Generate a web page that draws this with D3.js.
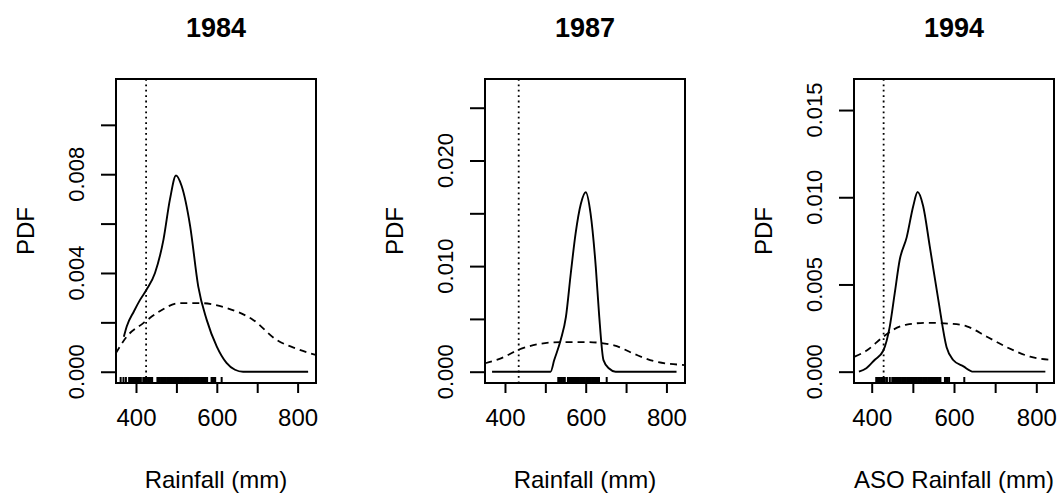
<!DOCTYPE html>
<html lang="en">
<head>
<meta charset="UTF-8">
<title>Rainfall PDFs</title>
<script src="https://d3js.org/d3.v7.min.js"></script>
<style>
  body { margin: 0; background: #fff; }
  text { font-family: "Liberation Sans", Arial, sans-serif; fill: #000; }
</style>
</head>
<body>
<svg width="1060" height="500"></svg>
<script>
// panel settings
const years = ["1984", "1987", "1994"];
const xLabels = ["Rainfall (mm)", "Rainfall (mm)", "ASO Rainfall (mm)"];
const xLimits = [[350.5, 845.5], [350.5, 846], [357, 843]];
const yLimits = [[-0.000456, 0.011856], [-0.00107, 0.02772], [-0.00065, 0.01678]];
const xTicks = [400, 500, 600, 700, 800];
const xTickLabels = [400, 600, 800];
const yTicks = [
    [0, 0.002, 0.004, 0.006, 0.008, 0.010],
    [0, 0.005, 0.010, 0.015, 0.020, 0.025],
    [0, 0.005, 0.010, 0.015]
];
const yTickLabels = [
    [0, 0.004, 0.008],
    [0, 0.010, 0.020],
    [0, 0.005, 0.010, 0.015]
];
const thresholds = [425, 434, 429];

// kernel density (solid)
const kde1984 = [[370, 0.00142], [377, 0.00183], [395, 0.00245], [410, 0.00291], [426, 0.00332], [447, 0.0040],
    [468, 0.00535], [484, 0.00698], [499, 0.00795], [513, 0.00752], [534, 0.0059], [554, 0.00346],
    [575, 0.0021], [600, 0.00102], [624, 0.00036], [645, 0.00008], [665, 0], [826, 0]];
const kde1987 = [[368, 0], [513, 0], [522, 0.0011], [538, 0.0030], [551, 0.0052], [563, 0.0093],
    [575, 0.0131], [588, 0.0159], [600, 0.0170], [612, 0.0150], [625, 0.0099], [633, 0.0055],
    [644, 0.0011], [658, 0.0003], [674, 0], [825, 0]];
const kde1994 = [[369, 0], [387, 0.0002], [407, 0.00067], [428, 0.0012], [444, 0.0026], [456, 0.0045],
    [468, 0.0064], [485, 0.0077], [501, 0.0095], [511.5, 0.0103], [525, 0.0095], [541, 0.0072],
    [562, 0.0041], [582, 0.0014], [598, 0.00067], [623, 0.0003], [647, 0], [822, 0]];

// fitted distribution (dashed)
const fit1984 = [[350, 0.00075], [377, 0.00142], [418, 0.00197], [451, 0.00237], [509, 0.00278],
    [558, 0.00278], [624, 0.00258], [690, 0.0021], [748, 0.00129], [800, 0.00092], [845, 0.00068]];
const fit1987 = [[351, 0.0008], [390, 0.00127], [435, 0.0021], [481, 0.0026], [538, 0.0028],
    [604, 0.0028], [670, 0.0025], [719, 0.0017], [769, 0.0010], [846, 0.00063]];
const fit1994 = [[358.5, 0.00086], [387, 0.0012], [428, 0.002], [452, 0.0024], [485, 0.0027],
    [533, 0.0028], [590, 0.00275], [631, 0.0026], [680, 0.002], [728.5, 0.0014], [785, 0.00086], [843, 0.00067]];

// observations (rug)
const obs1984 = [362, 369, 375, 383, 386, 389, 392, 395, 398, 401, 404, 407, 410, 412,
    418, 421, 424, 427, 430, 433, 436, 439, 440,
    453, 456, 459, 462, 465, 468, 471, 474, 477, 480, 483, 486, 489, 492, 495, 498, 501,
    504, 507, 510, 513, 516, 519, 522, 525, 528, 531, 534, 537, 540, 543, 546, 549, 552,
    555, 558, 561, 564, 567, 570, 573, 576, 587, 590, 593, 596, 612];
const obs1987 = [532, 535, 538, 541, 544, 547, 548,
    556, 559, 562, 565, 568, 571, 574, 577, 580, 583, 586, 589, 592, 595, 598, 601, 604,
    607, 610, 613, 616, 619, 622, 625, 628, 631, 633, 652];
const obs1994 = [411, 414, 417, 420, 423, 426, 429, 432, 437, 444,
    450, 453, 456, 459, 462, 465, 468, 471, 474, 477, 480, 483, 486, 489, 492, 495, 498,
    501, 504, 507, 510, 513, 516, 519, 522, 525, 528, 531, 534, 537, 540, 543, 546, 549,
    552, 555, 558, 561, 564, 567, 578, 581, 584, 588, 625];

const kdes = [kde1984, kde1987, kde1994];
const fits = [fit1984, fit1987, fit1994];
const obs = [obs1984, obs1987, obs1994];

const svg = d3.select("svg");
svg.append("rect").attr("width", 1060).attr("height", 500).attr("fill", "#fff");

const panelLeft = [116, 485, 854];
const boxW = 200, plotTop = 79, plotBottom = 383;
const fmt = d3.format(".3f");

years.forEach(function (year, i) {
    const left = panelLeft[i];
    const x = d3.scaleLinear().domain(xLimits[i]).range([left, left + boxW]);
    const y = d3.scaleLinear().domain(yLimits[i]).range([plotBottom, plotTop]);
    const g = svg.append("g");
    const clipId = "clip" + i;

    g.append("clipPath").attr("id", clipId)
        .append("rect").attr("x", left).attr("y", plotTop).attr("width", boxW).attr("height", plotBottom - plotTop);

    const line = d3.line()
        .x(function (d) { return x(d[0]); })
        .y(function (d) { return y(d[1]); })
        .curve(d3.curveMonotoneX);

    const plot = g.append("g").attr("clip-path", "url(#" + clipId + ")");

    plot.append("path")
        .datum(fits[i])
        .attr("d", line)
        .attr("fill", "none")
        .attr("stroke", "#000")
        .attr("stroke-width", 1.8)
        .attr("stroke-dasharray", "7 5");

    plot.append("path")
        .datum(kdes[i])
        .attr("d", line)
        .attr("fill", "none")
        .attr("stroke", "#000")
        .attr("stroke-width", 1.9);

    // threshold line
    plot.append("line")
        .attr("x1", x(thresholds[i])).attr("x2", x(thresholds[i]))
        .attr("y1", plotTop).attr("y2", plotBottom)
        .attr("stroke", "#000")
        .attr("stroke-width", 1.8)
        .attr("stroke-dasharray", "1.8 3.6");

    // rug
    plot.selectAll(".rug")
        .data(obs[i])
        .enter()
        .append("line")
        .attr("x1", function (d) { return x(d); })
        .attr("x2", function (d) { return x(d); })
        .attr("y1", plotBottom)
        .attr("y2", plotBottom - 6)
        .attr("stroke", "#000")
        .attr("stroke-width", 2);

    // box
    g.append("rect")
        .attr("x", left).attr("y", plotTop)
        .attr("width", boxW).attr("height", plotBottom - plotTop)
        .attr("fill", "none")
        .attr("stroke", "#000")
        .attr("stroke-width", 2);

    // x axis
    const xAxis = g.append("g")
        .attr("transform", "translate(0," + plotBottom + ")")
        .call(d3.axisBottom(x).tickValues(xTicks).tickSize(10)
            .tickFormat(function (d) { return xTickLabels.indexOf(d) >= 0 ? d : ""; }));
    xAxis.select(".domain").remove();
    xAxis.selectAll("line").attr("stroke-width", 2);
    xAxis.selectAll("text")
        .attr("font-size", 24)
        .attr("font-family", "Liberation Sans, Arial, sans-serif")
        .attr("y", 43).attr("dy", 0);

    // y axis
    const yAxis = g.append("g")
        .attr("transform", "translate(" + left + ",0)")
        .call(d3.axisLeft(y).tickValues(yTicks[i]).tickSize(15).tickFormat(""));
    yAxis.select(".domain").remove();
    yAxis.selectAll("line").attr("stroke-width", 2);

    g.selectAll(".ylab")
        .data(yTickLabels[i])
        .enter()
        .append("text")
        .attr("transform", function (d) { return "translate(" + (left - 32) + "," + y(d) + ") rotate(-90)"; })
        .attr("text-anchor", "middle")
        .attr("font-size", 22)
        .text(function (d) { return fmt(d); });

    // titles and labels
    g.append("text")
        .attr("x", left + boxW / 2).attr("y", 37)
        .attr("text-anchor", "middle")
        .attr("font-size", 27)
        .attr("font-weight", "bold")
        .text(year);

    g.append("text")
        .attr("x", left + boxW / 2).attr("y", 488)
        .attr("text-anchor", "middle")
        .attr("font-size", 24)
        .text(xLabels[i]);

    g.append("text")
        .attr("transform", "translate(" + (left - 82) + "," + (plotTop + plotBottom) / 2 + ") rotate(-90)")
        .attr("text-anchor", "middle")
        .attr("font-size", 24)
        .text("PDF");
});
</script>
</body>
</html>
